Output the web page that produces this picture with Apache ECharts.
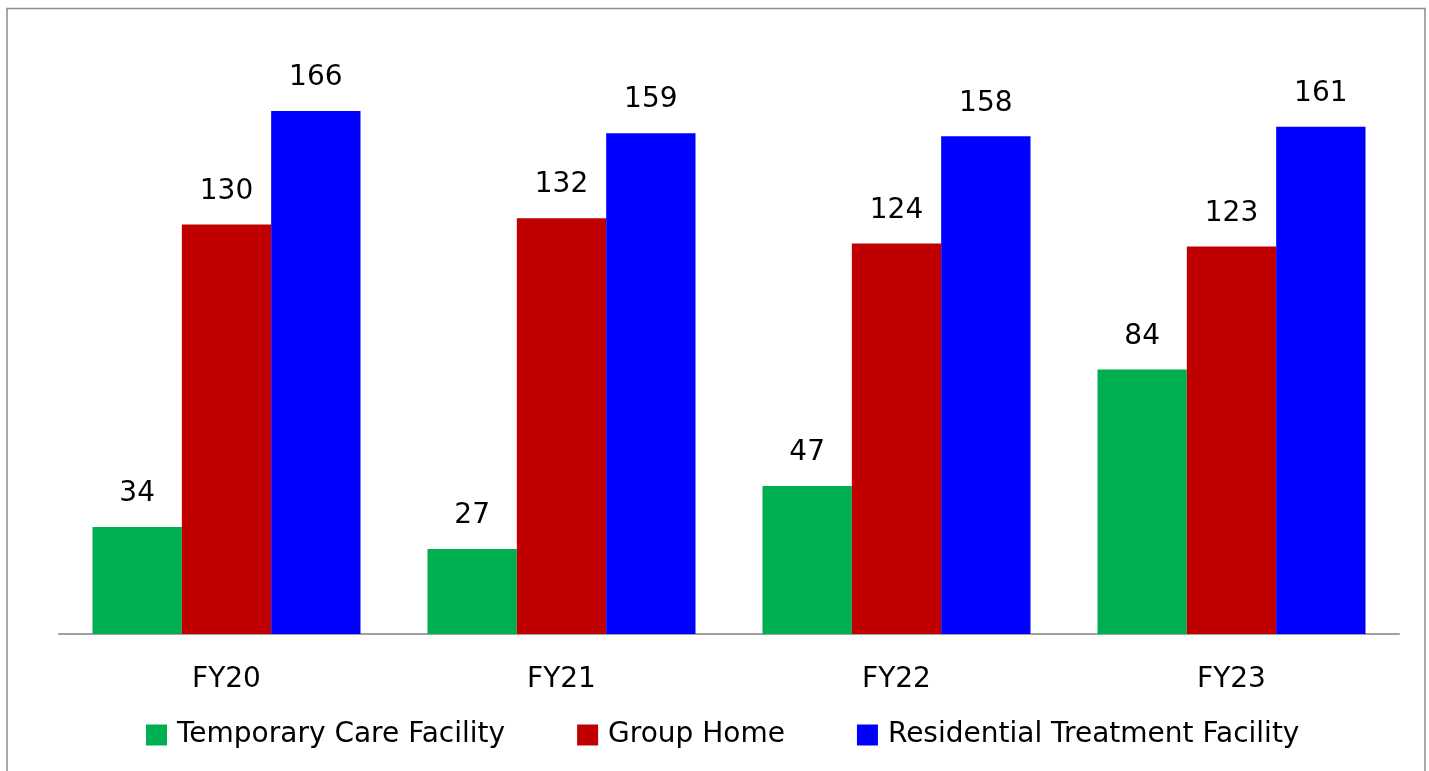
<!DOCTYPE html>
<html>
<head>
<meta charset="utf-8">
<script src="https://cdn.jsdelivr.net/npm/echarts@6/dist/echarts.min.js"></script>
<style>
html,body{margin:0;padding:0;background:#fff;}
#main{width:1429px;height:771px;}
</style>
</head>
<body>
<div id="main"></div>
<script>
const categories = ['FY20', 'FY21', 'FY22', 'FY23'];
const temporaryCare = [34, 27, 47, 84];
const groupHome = [130, 132, 124, 123];
const residentialTreatment = [166, 159, 158, 161];
const seriesNames = ['Temporary Care Facility', 'Group Home', 'Residential Treatment Facility'];
const seriesColors = ['#00B050', '#C00000', '#0000FF'];

const font = 'DejaVu Sans';
const chart = echarts.init(document.getElementById('main'));
const values = [temporaryCare, groupHome, residentialTreatment];

chart.setOption({
  animation: false,
  backgroundColor: '#fff',
  graphic: [{
    type: 'rect',
    shape: { x: 7, y: 8.5, width: 1418, height: 800 },
    style: { fill: 'none', stroke: '#8c8c8c', lineWidth: 1.5 },
    silent: true
  }],
  grid: { left: 59, right: 30, top: 4, bottom: 137, containLabel: false },
  legend: {
    data: seriesNames,
    left: 146,
    top: 721,
    padding: 0,
    itemWidth: 21,
    itemHeight: 21,
    itemGap: 72,
    icon: 'rect',
    textStyle: { fontFamily: font, fontSize: 28, color: '#000', padding: [0, 0, 0, 5] }
  },
  xAxis: {
    type: 'category',
    data: categories,
    axisLine: { lineStyle: { color: '#a0a0a0', width: 2 } },
    axisTick: { show: false },
    axisLabel: { fontFamily: font, fontSize: 28, color: '#000', margin: 32 }
  },
  yAxis: {
    type: 'value',
    min: 0,
    max: 200,
    show: false,
    splitLine: { show: false }
  },
  series: seriesNames.map((name, i) => ({
    name: name,
    type: 'bar',
    data: values[i],
    barGap: '0%',
    barCategoryGap: '20%',
    itemStyle: { color: seriesColors[i] },
    label: {
      show: true,
      position: 'top',
      distance: 19,
      fontFamily: font,
      fontSize: 28,
      color: '#000'
    }
  }))
});
</script>
</body>
</html>
